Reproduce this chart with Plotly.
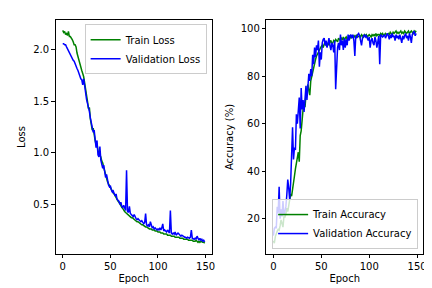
import plotly.graph_objects as go

epochs = list(range(150))

train_loss = [
    2.19, 2.17, 2.18, 2.15, 2.16, 2.14, 2.18, 2.13, 2.13, 2.12,
    2.10, 2.08, 2.05, 2.05, 2.03, 1.97, 1.93, 1.91, 1.88, 1.84,
    1.80, 1.77, 1.74, 1.68, 1.60, 1.53, 1.50, 1.43, 1.44, 1.33,
    1.26, 1.22, 1.24, 1.15, 1.12, 1.08, 1.09, 1.02, 1.00, 0.97,
    0.96, 0.92, 0.90, 0.86, 0.82, 0.78, 0.75, 0.72, 0.70, 0.68,
    0.66, 0.64, 0.62, 0.61, 0.60, 0.58, 0.57, 0.55, 0.53, 0.52,
    0.50, 0.49, 0.47, 0.46, 0.44, 0.43, 0.42, 0.41, 0.40, 0.39,
    0.39, 0.38, 0.37, 0.37, 0.36, 0.35, 0.35, 0.34, 0.33, 0.33,
    0.32, 0.31, 0.31, 0.30, 0.30, 0.29, 0.29, 0.28, 0.28, 0.27,
    0.27, 0.26, 0.26, 0.26, 0.25, 0.25, 0.25, 0.24, 0.24, 0.24,
    0.23, 0.23, 0.23, 0.22, 0.22, 0.22, 0.21, 0.21, 0.21, 0.21,
    0.20, 0.20, 0.20, 0.20, 0.19, 0.19, 0.19, 0.19, 0.18, 0.18,
    0.18, 0.18, 0.18, 0.17, 0.17, 0.17, 0.17, 0.16, 0.16, 0.16,
    0.16, 0.16, 0.15, 0.15, 0.15, 0.15, 0.15, 0.14, 0.14, 0.14,
    0.15, 0.14, 0.13, 0.14, 0.13, 0.14, 0.13, 0.13, 0.13, 0.12,
]

val_loss = [
    2.06, 2.06, 2.05, 2.05, 2.03, 2.01, 1.99, 1.97, 1.96, 1.94,
    1.92, 1.90, 1.89, 1.86, 1.84, 1.82, 1.80, 1.77, 1.75, 1.72,
    1.71, 1.66, 1.72, 1.64, 1.58, 1.52, 1.48, 1.45, 1.40, 1.34,
    1.29, 1.26, 1.20, 1.22, 1.10, 1.05, 1.12, 0.98, 0.96, 1.06,
    0.93, 0.90, 0.85, 0.88, 0.80, 0.76, 0.79, 0.71, 0.69, 0.67,
    0.68, 0.64, 0.62, 0.63, 0.60, 0.58, 0.60, 0.55, 0.54, 0.53,
    0.50, 0.52, 0.48, 0.47, 0.49, 0.45, 0.44, 0.83, 0.43, 0.42,
    0.48, 0.41, 0.40, 0.39, 0.38, 0.40, 0.37, 0.36, 0.35, 0.36,
    0.35, 0.34, 0.33, 0.34, 0.32, 0.31, 0.32, 0.41, 0.30, 0.29,
    0.30, 0.28, 0.33, 0.29, 0.27, 0.28, 0.26, 0.27, 0.26, 0.25,
    0.26, 0.25, 0.27, 0.25, 0.27, 0.31, 0.24, 0.25, 0.24, 0.23,
    0.25, 0.23, 0.22, 0.44, 0.22, 0.21, 0.22, 0.21, 0.23, 0.20,
    0.21, 0.22, 0.21, 0.20, 0.19, 0.20, 0.19, 0.19, 0.18, 0.18,
    0.17, 0.18, 0.17, 0.17, 0.18, 0.25, 0.17, 0.16, 0.16, 0.17,
    0.16, 0.19, 0.16, 0.15, 0.17, 0.15, 0.16, 0.14, 0.15, 0.135,
]

train_acc = [
    10.8, 9.7, 12.5, 14.0, 14.8, 15.5, 15.2, 17.0, 19.5, 18.0,
    16.5, 21.0, 20.5, 22.0, 24.5, 23.0, 26.0, 28.0, 30.5, 29.5,
    32.0, 34.0, 38.0, 41.0, 43.0, 45.5, 48.0, 44.0, 55.0, 57.0,
    62.0, 66.0, 68.0, 67.0, 72.0, 75.0, 76.5, 74.0, 72.0, 78.0,
    80.0, 82.5, 84.0, 86.0, 87.0, 88.5, 89.0, 90.0, 91.0, 92.0,
    92.5, 93.0, 92.0, 93.5, 94.0, 93.0, 92.5, 94.0, 93.0, 94.5,
    95.0, 93.5, 94.0, 95.0, 94.5, 95.5, 95.0, 94.5, 96.0, 95.5,
    95.0, 96.0, 95.5, 96.5, 95.0, 96.0, 96.5, 95.5, 96.0, 96.5,
    97.0, 96.0, 96.5, 97.0, 96.5, 97.0, 96.0, 97.5, 96.5, 97.0,
    97.0, 96.5, 97.5, 97.0, 96.5, 97.5, 97.0, 97.5, 96.5, 97.0,
    97.5, 97.0, 96.5, 97.5, 97.0, 97.5, 97.0, 98.0, 97.0, 97.5,
    97.5, 97.0, 98.0, 97.5, 98.0, 97.0, 97.5, 98.0, 97.5, 98.0,
    98.0, 97.5, 98.5, 98.0, 97.5, 98.5, 98.0, 98.5, 99.0, 98.0,
    98.5, 98.0, 98.5, 99.0, 98.0, 98.5, 98.0, 99.0, 98.5, 98.0,
    98.5, 99.0, 98.0, 98.5, 99.0, 98.5, 98.0, 99.0, 98.5, 99.1,
]

val_acc = [
    12.9, 16.0, 16.5, 16.0, 25.0, 22.5, 33.5, 20.0, 24.0, 21.0,
    27.5, 21.5, 23.0, 25.0, 30.0, 36.5, 33.0, 28.0, 35.0, 44.0,
    58.5, 45.0, 50.0, 49.0, 64.0, 60.0, 64.5, 71.0, 58.0, 75.0,
    66.0, 70.0, 65.0, 72.0, 76.0, 70.0, 74.0, 81.0, 78.0, 83.0,
    80.0, 89.0, 85.0, 92.0, 88.0, 93.0, 91.0, 95.0, 84.0, 90.0,
    87.0, 94.0, 95.5, 96.0, 93.0, 95.0, 92.0, 94.0, 96.0, 93.0,
    91.0, 94.0, 93.0, 90.0, 95.0, 74.5, 88.0, 92.0, 94.0, 91.0,
    97.5, 93.0, 95.0, 91.0, 96.0, 92.0, 95.5, 93.0, 97.5, 95.0,
    97.0, 97.5, 96.0, 97.5, 95.0, 88.5, 97.0, 96.0, 97.5, 98.0,
    97.0, 95.0, 93.0, 96.0, 97.0, 97.5, 96.5, 97.0, 96.0, 95.0,
    96.5, 92.0, 95.0, 96.0, 94.0, 93.0, 96.5, 95.0, 92.0, 96.0,
    97.0, 85.0, 97.5, 97.0, 96.5, 97.0, 97.5, 96.0, 97.0, 98.0,
    97.0, 95.5, 97.5, 96.0, 98.0, 96.5, 97.0, 95.0, 97.5, 96.0,
    97.0, 95.5, 97.5, 96.0, 94.0, 97.0, 95.5, 97.0, 98.0, 96.0,
    97.0, 95.0, 98.0, 96.5, 94.0, 97.5, 98.5, 99.0, 97.0, 98.0,
]

GREEN = "#008000"
BLUE = "#0000ff"
FONT = "DejaVu Sans"

fig = go.Figure()
fig.add_trace(go.Scatter(x=epochs, y=train_loss, mode="lines", name="Train Loss",
                         line=dict(color=GREEN, width=1.5), xaxis="x", yaxis="y", legend="legend"))
fig.add_trace(go.Scatter(x=epochs, y=val_loss, mode="lines", name="Validation Loss",
                         line=dict(color=BLUE, width=1.5), xaxis="x", yaxis="y", legend="legend"))
fig.add_trace(go.Scatter(x=epochs, y=train_acc, mode="lines", name="Train Accuracy",
                         line=dict(color=GREEN, width=1.5), xaxis="x2", yaxis="y2", legend="legend2"))
fig.add_trace(go.Scatter(x=epochs, y=val_acc, mode="lines", name="Validation Accuracy",
                         line=dict(color=BLUE, width=1.5), xaxis="x2", yaxis="y2", legend="legend2"))

axis_common = dict(showline=True, linecolor="black", linewidth=1, mirror=True,
                   ticks="outside", ticklen=3.5, tickcolor="black", tickwidth=1,
                   showgrid=False, zeroline=False,
                   tickfont=dict(family=FONT, size=10, color="black"))
title_font = dict(family=FONT, size=10, color="black")

fig.update_layout(
    width=432, height=288,
    margin=dict(l=0, r=0, t=0, b=0),
    paper_bgcolor="white", plot_bgcolor="white",
    font=dict(family=FONT, size=10, color="black"),
    xaxis=dict(domain=[0.111, 0.475], range=[-7.45, 156.45], tickvals=[0, 50, 100, 150],
               title=dict(text="Epoch", standoff=3, font=title_font), anchor="y", **axis_common),
    yaxis=dict(domain=[0.146, 0.958], range=[0.017, 2.29], tickvals=[0.5, 1.0, 1.5, 2.0],
               ticktext=["0.5", "1.0", "1.5", "2.0"],
               title=dict(text="Loss", standoff=5, font=title_font), anchor="x", **axis_common),
    xaxis2=dict(domain=[0.602, 0.968], range=[-7.45, 156.45], tickvals=[0, 50, 100, 150],
                title=dict(text="Epoch", standoff=3, font=title_font), anchor="y2", **axis_common),
    yaxis2=dict(domain=[0.146, 0.958], range=[5.2, 103.6], tickvals=[20, 40, 60, 80, 100],
                title=dict(text="Accuracy (%)", standoff=5, font=title_font), anchor="x2", **axis_common),
    legend=dict(x=0.463, y=0.944, xanchor="right", yanchor="top",
                bgcolor="rgba(255,255,255,0.8)", bordercolor="#cccccc", borderwidth=1,
                font=dict(family=FONT, size=10), itemwidth=30, tracegroupgap=0),
    legend2=dict(x=0.956, y=0.163, xanchor="right", yanchor="bottom",
                 bgcolor="rgba(255,255,255,0.8)", bordercolor="#cccccc", borderwidth=1,
                 font=dict(family=FONT, size=10), itemwidth=30, tracegroupgap=0),
)

fig.write_html("out.html")
